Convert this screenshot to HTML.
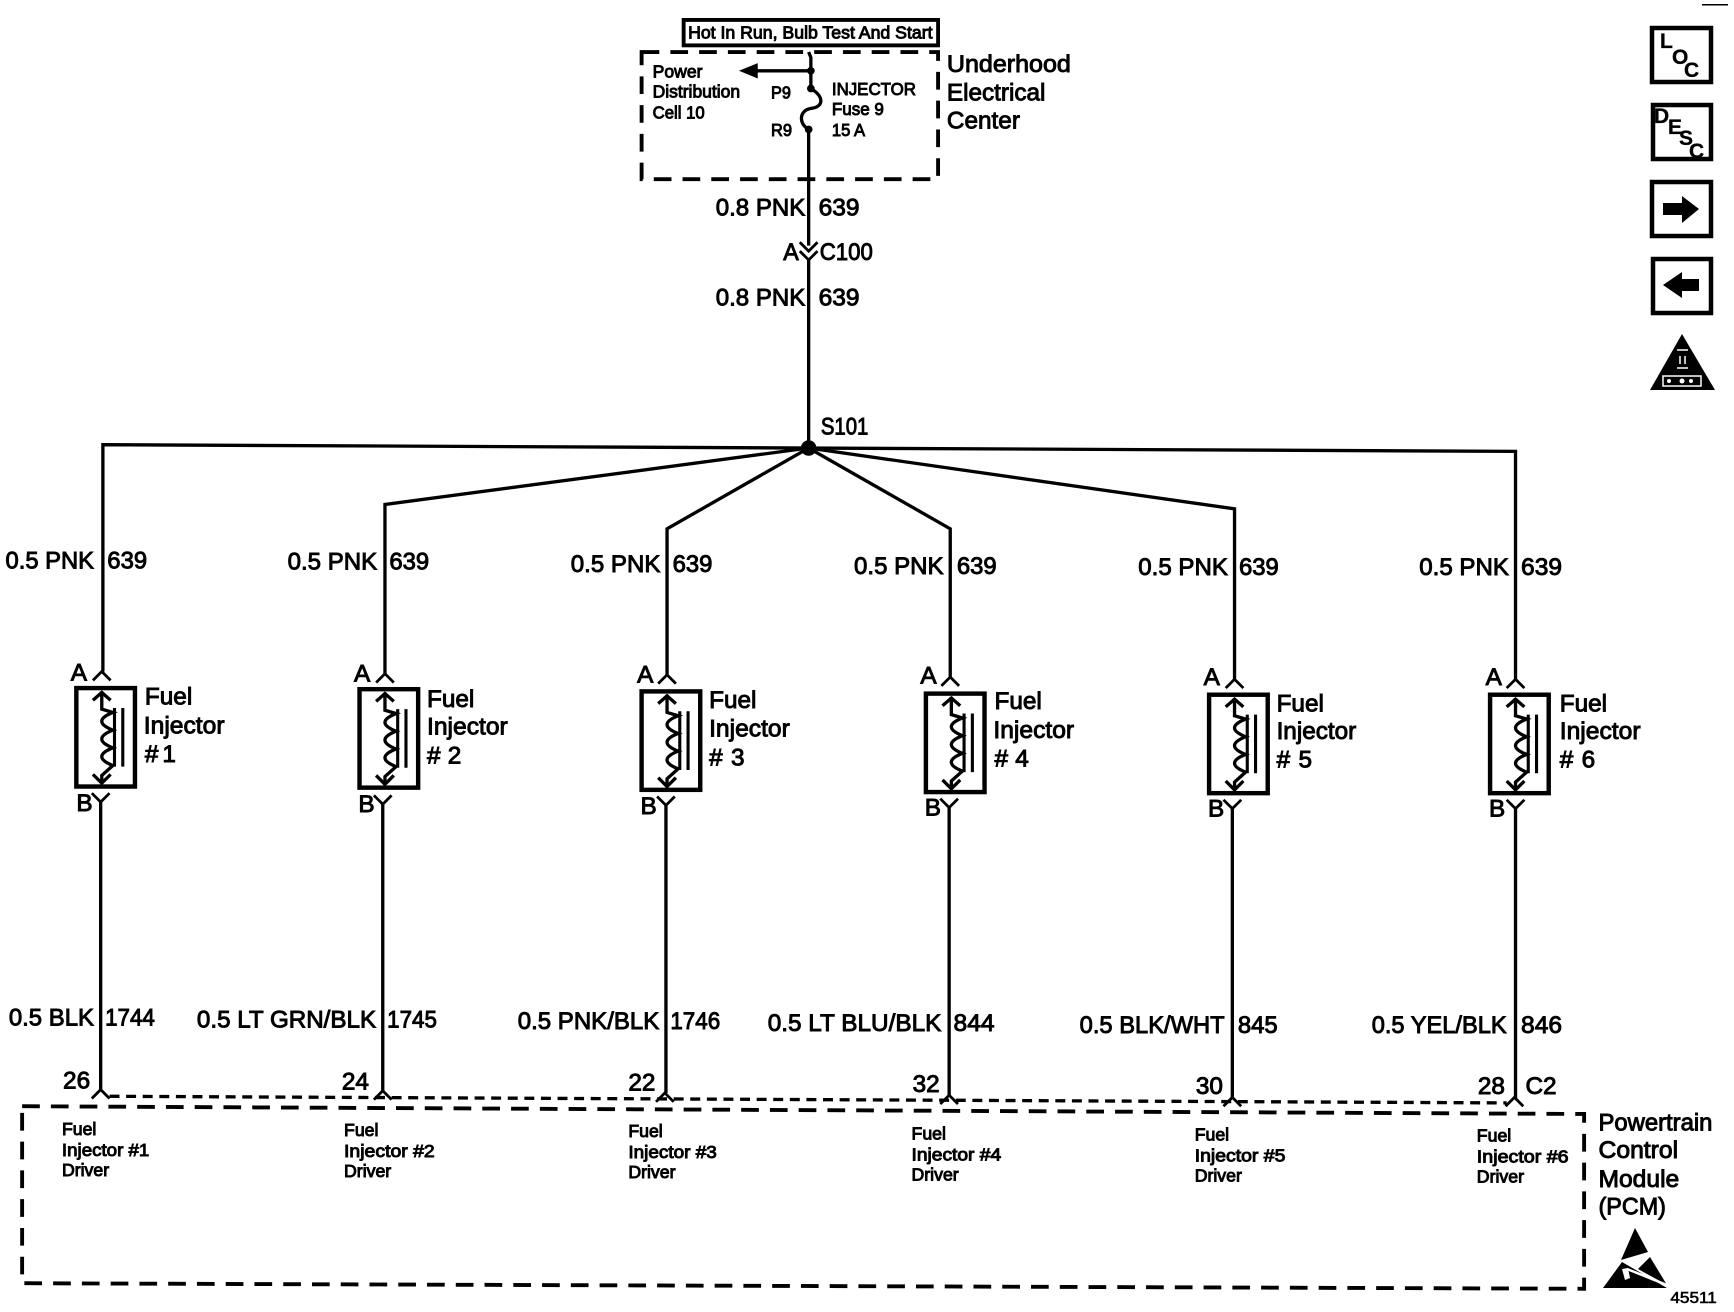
<!DOCTYPE html>
<html>
<head>
<meta charset="utf-8">
<title>Fuel Injector Wiring Diagram</title>
<style>
html,body{margin:0;padding:0;background:#fff;width:1734px;height:1312px;overflow:hidden}
svg{display:block}
text{font-family:"Liberation Sans",sans-serif;fill:#000;stroke:#000;stroke-width:.85px;white-space:pre}
.l{font-size:22px}
.s{font-size:16px;stroke-width:.85px}
.t{font-size:14px;stroke-width:.5px}
.w{fill:none;stroke:#000;stroke-width:3px}
.d{fill:none;stroke:#000;stroke-width:3.5px;stroke-dasharray:16 10}
.e{fill:none;stroke:#000;stroke-width:3px;stroke-dasharray:9 6}
.i{font-size:21px;font-weight:bold;stroke-width:.3px}
</style>
</head>
<body>
<svg width="1734" height="1312" viewBox="0 0 1567.500 1186" xmlns="http://www.w3.org/2000/svg">
<defs>
<g id="inj">
<rect x="1" y="1" width="53" height="89" fill="#fff" stroke="#000" stroke-width="4"/>
<path class="w" d="M24,4 V20 L34,23 Q14,31 34,39 Q14,47 34,55 Q14,63 34,71 L24,80 V87"/>
<path class="w" d="M16,12 L24,5 L32,12 M16,79 L24,87 L32,79"/>
<path d="M35.500,19 V72 M43,19 V72" fill="none" stroke="#000" stroke-width="2.800"/>
</g>
<path id="up" d="M-8,9 L0,1 L8,9" fill="none" stroke="#000" stroke-width="2.500"/>
<path id="dn" d="M-8,0 L0,8 L8,0" fill="none" stroke="#000" stroke-width="2.500"/>
</defs>

<!-- Header -->
<rect x="618" y="18" width="230" height="23" fill="none" stroke="#000" stroke-width="3.500"/>
<text class="s" x="622" y="35" textLength="221" lengthAdjust="spacingAndGlyphs">Hot In Run, Bulb Test And Start</text>
<rect class="d" x="580" y="47" width="268" height="115"/>
<path class="w" d="M731,47 L733,52 V80 C746,88 744,97 733,98 C722,100 722,112 731,117 V222"/>
<path class="w" d="M733,64 H680"/>
<path d="M668,64 L685,57 V71 Z"/>
<circle cx="733" cy="64" r="3.500"/><circle cx="733" cy="80" r="3.500"/><circle cx="731" cy="117" r="3.500"/>
<text class="s" x="590" y="70" textLength="45" lengthAdjust="spacingAndGlyphs">Power</text>
<text class="s" x="590" y="88" textLength="79" lengthAdjust="spacingAndGlyphs">Distribution</text>
<text class="s" x="590" y="107" textLength="47" lengthAdjust="spacingAndGlyphs">Cell 10</text>
<text class="s" x="697" y="89" textLength="18" lengthAdjust="spacingAndGlyphs">P9</text>
<text class="s" x="697" y="123" textLength="19" lengthAdjust="spacingAndGlyphs">R9</text>
<text class="s" x="752" y="86" textLength="76" lengthAdjust="spacingAndGlyphs">INJECTOR</text>
<text class="s" x="752" y="104" textLength="47" lengthAdjust="spacingAndGlyphs">Fuse 9</text>
<text class="s" x="752" y="123" textLength="30" lengthAdjust="spacingAndGlyphs">15 A</text>
<text class="l" x="856" y="65" textLength="112" lengthAdjust="spacingAndGlyphs">Underhood</text>
<text class="l" x="856" y="91" textLength="89" lengthAdjust="spacingAndGlyphs">Electrical</text>
<text class="l" x="856" y="116" textLength="66" lengthAdjust="spacingAndGlyphs">Center</text>

<text class="l" x="647" y="195" textLength="81" lengthAdjust="spacingAndGlyphs">0.8 PNK</text>
<text class="l" x="740" y="195" textLength="37" lengthAdjust="spacingAndGlyphs">639</text>
<text class="l" x="708" y="235" textLength="14" lengthAdjust="spacingAndGlyphs">A</text>
<text class="l" x="741" y="235" textLength="48" lengthAdjust="spacingAndGlyphs">C100</text>
<use href="#dn" x="731" y="219"/><use href="#dn" x="731" y="227"/>
<path class="w" d="M731,235 V405"/>
<text class="l" x="647" y="276" textLength="81" lengthAdjust="spacingAndGlyphs">0.8 PNK</text>
<text class="l" x="740" y="276" textLength="37" lengthAdjust="spacingAndGlyphs">639</text>
<text class="l" x="742" y="393" textLength="43" lengthAdjust="spacingAndGlyphs">S101</text>
<circle cx="731" cy="405" r="7"/>

<!-- Branches -->
<path class="w" d="M731,405 L93,402 V607"/>
<path class="w" d="M731,405 L348,456 V610"/>
<path class="w" d="M731,405 L603,478 V610"/>
<path class="w" d="M731,405 L859,478 V612"/>
<path class="w" d="M731,405 L1116,460 V615"/>
<path class="w" d="M731,405 L1370,408 V615"/>

<text class="l" x="5" y="514" textLength="80" lengthAdjust="spacingAndGlyphs">0.5 PNK</text><text class="l" x="97" y="514" textLength="36" lengthAdjust="spacingAndGlyphs">639</text>
<text class="l" x="260" y="515" textLength="81" lengthAdjust="spacingAndGlyphs">0.5 PNK</text><text class="l" x="352" y="515" textLength="36" lengthAdjust="spacingAndGlyphs">639</text>
<text class="l" x="516" y="517" textLength="81" lengthAdjust="spacingAndGlyphs">0.5 PNK</text><text class="l" x="608" y="517" textLength="36" lengthAdjust="spacingAndGlyphs">639</text>
<text class="l" x="772" y="519" textLength="81" lengthAdjust="spacingAndGlyphs">0.5 PNK</text><text class="l" x="865" y="519" textLength="36" lengthAdjust="spacingAndGlyphs">639</text>
<text class="l" x="1029" y="520" textLength="81" lengthAdjust="spacingAndGlyphs">0.5 PNK</text><text class="l" x="1120" y="520" textLength="36" lengthAdjust="spacingAndGlyphs">639</text>
<text class="l" x="1283" y="520" textLength="81" lengthAdjust="spacingAndGlyphs">0.5 PNK</text><text class="l" x="1375" y="520" textLength="37" lengthAdjust="spacingAndGlyphs">639</text>

<!-- Injector 1 -->
<use href="#up" x="92" y="606"/><use href="#inj" x="68" y="621"/><use href="#dn" x="91" y="717"/>
<path class="w" d="M91,724 V985"/><use href="#up" x="91" y="984"/>
<text class="l" x="64" y="615">A</text><text class="l" x="69" y="733">B</text>
<text class="l" x="131" y="637">Fuel</text><text class="l" x="130" y="663" textLength="73" lengthAdjust="spacingAndGlyphs">Injector</text><text class="l" x="131" y="689" textLength="28" lengthAdjust="spacing">#1</text>
<!-- Injector 2 -->
<use href="#up" x="348" y="608"/><use href="#inj" x="324" y="622"/><use href="#dn" x="346" y="719"/>
<path class="w" d="M346,726 V986"/><use href="#up" x="346" y="985"/>
<text class="l" x="320" y="616">A</text><text class="l" x="324" y="734">B</text>
<text class="l" x="386" y="639">Fuel</text><text class="l" x="386" y="664" textLength="73" lengthAdjust="spacingAndGlyphs">Injector</text><text class="l" x="386" y="690" textLength="31" lengthAdjust="spacing">#2</text>
<!-- Injector 3 -->
<use href="#up" x="603" y="609"/><use href="#inj" x="579" y="624"/><use href="#dn" x="602" y="720"/>
<path class="w" d="M602,727 V988"/><use href="#up" x="601" y="987"/>
<text class="l" x="576" y="617">A</text><text class="l" x="579" y="736">B</text>
<text class="l" x="641" y="640">Fuel</text><text class="l" x="641" y="666" textLength="73" lengthAdjust="spacingAndGlyphs">Injector</text><text class="l" x="641" y="692" textLength="32" lengthAdjust="spacing">#3</text>
<!-- Injector 4 -->
<use href="#up" x="859" y="611"/><use href="#inj" x="836" y="626"/><use href="#dn" x="858" y="722"/>
<path class="w" d="M858,729 V990"/><use href="#up" x="858" y="989"/>
<text class="l" x="832" y="618">A</text><text class="l" x="836" y="737">B</text>
<text class="l" x="899" y="641">Fuel</text><text class="l" x="898" y="667" textLength="73" lengthAdjust="spacingAndGlyphs">Injector</text><text class="l" x="899" y="693" textLength="31" lengthAdjust="spacing">#4</text>
<!-- Injector 5 -->
<use href="#up" x="1116" y="613"/><use href="#inj" x="1092" y="627"/><use href="#dn" x="1114" y="723"/>
<path class="w" d="M1114,730 V992"/><use href="#up" x="1114" y="991"/>
<text class="l" x="1088" y="619">A</text><text class="l" x="1092" y="738">B</text>
<text class="l" x="1154" y="643">Fuel</text><text class="l" x="1154" y="668" textLength="72" lengthAdjust="spacingAndGlyphs">Injector</text><text class="l" x="1154" y="694" textLength="32" lengthAdjust="spacing">#5</text>
<!-- Injector 6 -->
<use href="#up" x="1370" y="613"/><use href="#inj" x="1346" y="627"/><use href="#dn" x="1370" y="723"/>
<path class="w" d="M1370,730 V993"/><use href="#up" x="1369" y="991"/>
<text class="l" x="1343" y="619">A</text><text class="l" x="1346" y="738">B</text>
<text class="l" x="1410" y="643">Fuel</text><text class="l" x="1410" y="668" textLength="73" lengthAdjust="spacingAndGlyphs">Injector</text><text class="l" x="1410" y="694" textLength="32" lengthAdjust="spacing">#6</text>

<!-- Lower wire labels -->
<text class="l" x="8" y="927" textLength="77" lengthAdjust="spacingAndGlyphs">0.5 BLK</text><text class="l" x="95" y="927" textLength="45" lengthAdjust="spacingAndGlyphs">1744</text>
<text class="l" x="178" y="929" textLength="162" lengthAdjust="spacingAndGlyphs">0.5 LT GRN/BLK</text><text class="l" x="350" y="929" textLength="45" lengthAdjust="spacingAndGlyphs">1745</text>
<text class="l" x="468" y="930" textLength="128" lengthAdjust="spacingAndGlyphs">0.5 PNK/BLK</text><text class="l" x="606" y="930" textLength="45" lengthAdjust="spacingAndGlyphs">1746</text>
<text class="l" x="694" y="932" textLength="157" lengthAdjust="spacingAndGlyphs">0.5 LT BLU/BLK</text><text class="l" x="862" y="932" textLength="37" lengthAdjust="spacingAndGlyphs">844</text>
<text class="l" x="976" y="934" textLength="131" lengthAdjust="spacingAndGlyphs">0.5 BLK/WHT</text><text class="l" x="1119" y="934" textLength="36" lengthAdjust="spacingAndGlyphs">845</text>
<text class="l" x="1240" y="934" textLength="122" lengthAdjust="spacingAndGlyphs">0.5 YEL/BLK</text><text class="l" x="1375" y="934" textLength="37" lengthAdjust="spacingAndGlyphs">846</text>

<text class="l" x="57" y="984">26</text>
<text class="l" x="309" y="985">24</text>
<text class="l" x="568" y="986">22</text>
<text class="l" x="825" y="987">32</text>
<text class="l" x="1081" y="989">30</text>
<text class="l" x="1336" y="989">28</text>
<text class="l" x="1379" y="989">C2</text>

<!-- PCM -->
<path class="e" d="M99,991 L1362,997"/>
<path class="d" d="M20,1000 L1432,1007 V1165 L20,1160 V1000"/>
<text class="s" x="56" y="1026">Fuel</text><text class="s" x="56" y="1045" textLength="79" lengthAdjust="spacingAndGlyphs">Injector #1</text><text class="s" x="56" y="1063">Driver</text>
<text class="s" x="311" y="1027">Fuel</text><text class="s" x="311" y="1046" textLength="82" lengthAdjust="spacingAndGlyphs">Injector #2</text><text class="s" x="311" y="1064">Driver</text>
<text class="s" x="568" y="1028">Fuel</text><text class="s" x="568" y="1047" textLength="80" lengthAdjust="spacingAndGlyphs">Injector #3</text><text class="s" x="568" y="1065">Driver</text>
<text class="s" x="824" y="1030">Fuel</text><text class="s" x="824" y="1049" textLength="81" lengthAdjust="spacingAndGlyphs">Injector #4</text><text class="s" x="824" y="1067">Driver</text>
<text class="s" x="1080" y="1031">Fuel</text><text class="s" x="1080" y="1050" textLength="82" lengthAdjust="spacingAndGlyphs">Injector #5</text><text class="s" x="1080" y="1068">Driver</text>
<text class="s" x="1335" y="1032">Fuel</text><text class="s" x="1335" y="1051" textLength="83" lengthAdjust="spacingAndGlyphs">Injector #6</text><text class="s" x="1335" y="1069">Driver</text>
<text class="l" x="1445" y="1022" textLength="103" lengthAdjust="spacingAndGlyphs">Powertrain</text>
<text class="l" x="1445" y="1047" textLength="72" lengthAdjust="spacingAndGlyphs">Control</text>
<text class="l" x="1445" y="1073" textLength="73" lengthAdjust="spacingAndGlyphs">Module</text>
<text class="l" x="1445" y="1098" textLength="61" lengthAdjust="spacingAndGlyphs">(PCM)</text>
<text class="t" x="1510" y="1178" textLength="42" lengthAdjust="spacingAndGlyphs">45511</text>

<!-- Icons drawn in native pixel coordinates -->
<g transform="scale(.90398)">
<path d="M1635,1228 L1648,1252 L1621,1260 Z"/>
<path d="M1622,1262 L1603,1288 L1667,1288 Z"/>
<path d="M1650,1257 L1667,1285 L1638,1269 Z"/>
<path d="M1627,1269 L1667,1285" stroke="#fff" stroke-width="2.500" fill="none"/>
<path d="M1622,1269 L1628,1268 L1630,1278 L1625,1280 Z" fill="#fff"/>
<rect x="1702" y="4" width="26" height="1.500"/>
<rect x="1652" y="28" width="59" height="54" fill="none" stroke="#000" stroke-width="4.500"/>
<text class="i" x="1660" y="48">L</text><text class="i" x="1672" y="64">O</text><text class="i" x="1684" y="77">C</text>
<rect x="1653" y="105" width="58" height="54" fill="none" stroke="#000" stroke-width="4.500"/>
<text class="i" x="1654" y="123">D</text><text class="i" x="1668" y="134">E</text><text class="i" x="1679" y="145">S</text><text class="i" x="1689" y="158">C</text>
<rect x="1652" y="182" width="59" height="54" fill="none" stroke="#000" stroke-width="4.500"/>
<path d="M1663,203 H1682 V196 L1699,209 L1682,223 V215 H1663 Z"/>
<rect x="1653" y="259" width="58" height="54" fill="none" stroke="#000" stroke-width="4.500"/>
<path d="M1663,285 L1682,272 V279 H1699 V291 H1682 V298 Z"/>
<path d="M1682,334 L1715,390 H1650 Z"/>
<path d="M1677,350 H1688 M1677,368 H1688 M1680,356 V364 M1685,356 V364" stroke="#fff" stroke-width="1.500"/>
<rect x="1663" y="376" width="38" height="10" fill="none" stroke="#fff" stroke-width="1.500"/>
<circle cx="1669" cy="381" r="2" fill="#fff"/><circle cx="1682" cy="381" r="2.500" fill="#fff"/><circle cx="1691" cy="381" r="2" fill="#fff"/>
</g>
</svg>
</body>
</html>
